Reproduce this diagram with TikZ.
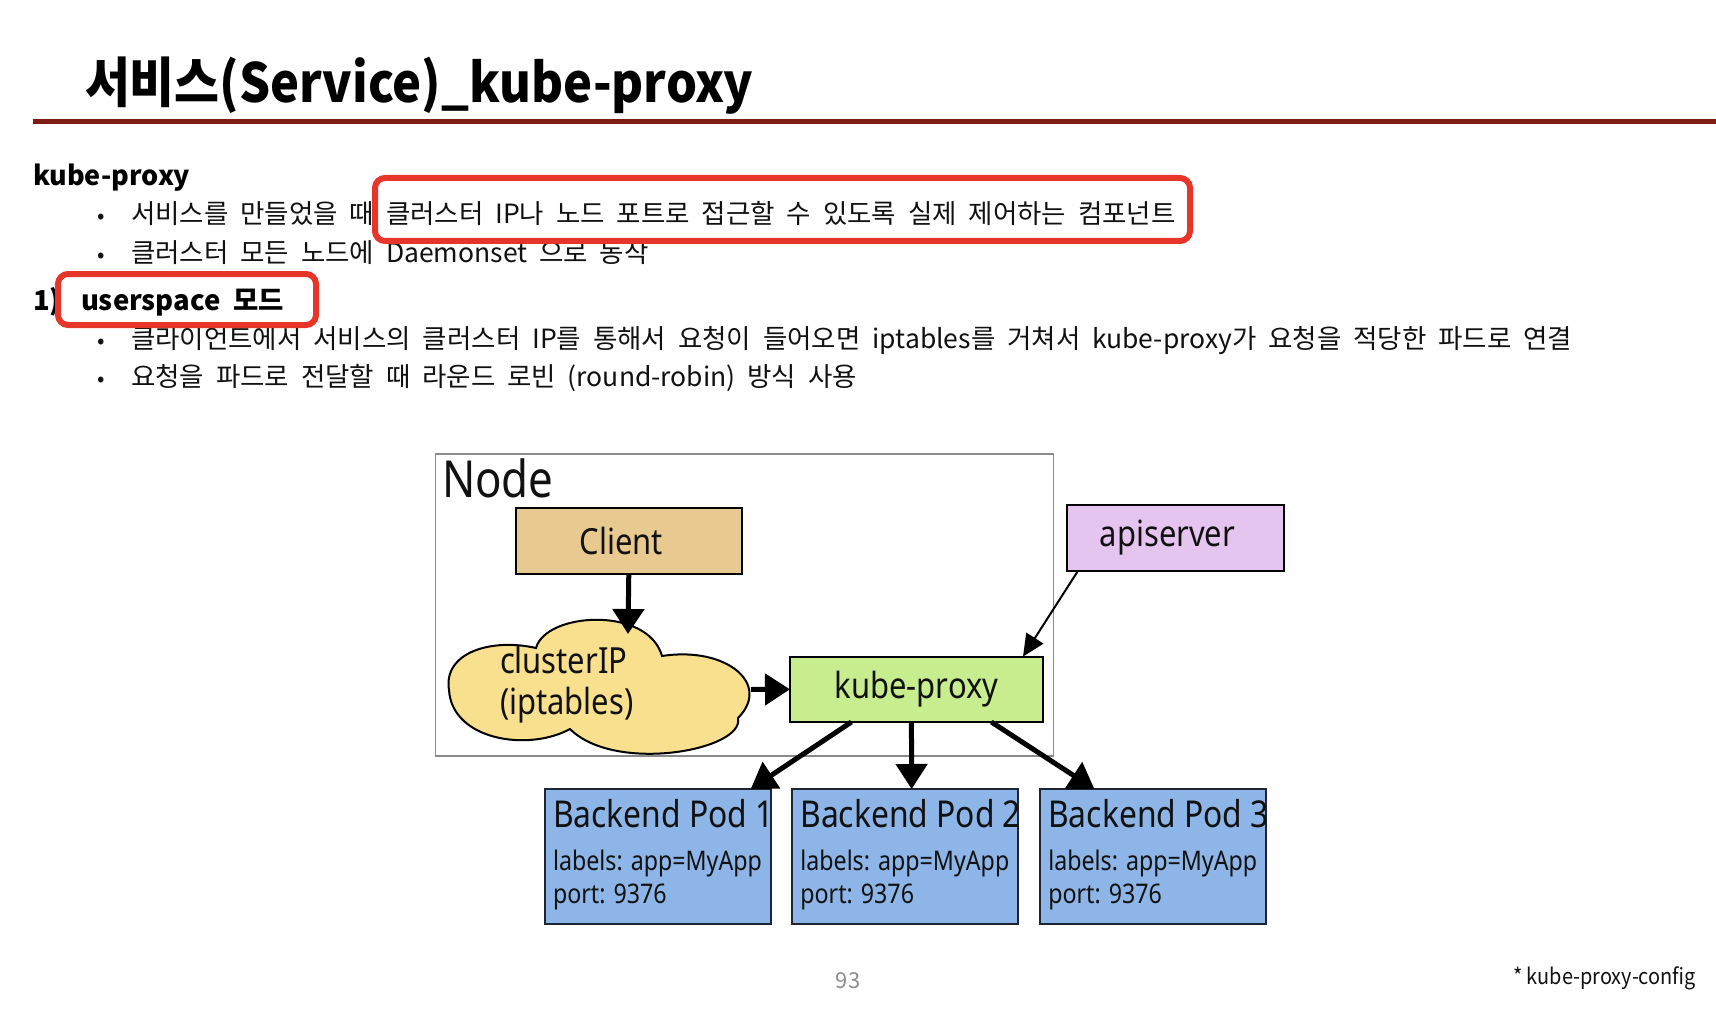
\documentclass[tikz,border=0pt]{standalone}
\usepackage{fontspec}
\setmainfont{Noto Sans CJK KR}
\newfontfamily\krt{Noto Sans CJK KR}[FakeStretch=0.905]
\newfontfamily\kr{Noto Sans CJK KR}[WordSpace=2]
\newfontfamily\dfont{Noto Sans}[FakeStretch=0.86]
\usetikzlibrary{arrows.meta,calc}
\definecolor{rulered}{HTML}{7F1D14}
\definecolor{hired}{HTML}{E8352A}
\definecolor{clientc}{HTML}{E8C98F}
\definecolor{apic}{HTML}{E6C4F0}
\definecolor{kpc}{HTML}{C7ED8F}
\definecolor{cloudc}{HTML}{F8E08E}
\definecolor{podc}{HTML}{8DB5E7}
\definecolor{podborder}{HTML}{1E2633}
\definecolor{nodegray}{HTML}{8A8A8A}
\definecolor{txt}{HTML}{111111}
\definecolor{pagegray}{HTML}{8C8C8C}
\begin{document}
\begin{tikzpicture}[x=1pt,y=-1pt,
  every node/.style={inner sep=0pt, outer sep=0pt, text=txt},
  titletext/.style={anchor=base west, font=\krt\bfseries\fontsize{54}{60}\selectfont, text=black},
  headtext/.style={anchor=base west, font=\kr\bfseries\fontsize{27.5}{32}\selectfont, text=black},
  bodytext/.style={anchor=base west, font=\kr\fontsize{26.5}{30}\selectfont},
  bul/.style={anchor=base, font=\kr\fontsize{22}{30}\selectfont},
  hibox/.style={draw=hired, line width=6pt, rounded corners=10pt},
  box/.style={draw=black, line width=2pt, font=\dfont\fontsize{36}{40}\selectfont},
  pod/.style={draw=podborder, fill=podc, line width=2pt, minimum width=225.5pt, minimum height=135pt},
  podtitle/.style={anchor=base west, font=\dfont\fontsize{37}{40}\selectfont},
  podsub/.style={anchor=base west, font=\dfont\fontsize{27}{30}\selectfont},
  bigarrow/.style={line width=5pt, -{Triangle[length=25pt, width=31pt]}},
  thinarrow/.style={line width=2pt, -{Triangle[length=22pt, width=20pt]}}
]
\useasboundingbox (0,0) rectangle (1716,1019);
\fill[white] (0,0) rectangle (1716,1019);

% title
\node[titletext] (title) at (85,103) {서비스(Service)\_kube-proxy};
\draw[rulered, line width=5pt] (33,121.5) -- (1716,121.5);

% text
\node[headtext, font=\kr\bfseries\fontsize{27}{32}\selectfont] (h1) at (33,186) {kube-proxy};
\node[bul] (d1) at (101,224) {•};
\node[bodytext] (b1) at (131,224) {서비스를 만들었을 때 클러스터 IP나 노드 포트로 접근할 수 있도록 실제 제어하는 컴포넌트};
\node[bul] (d2) at (101,262) {•};
\node[bodytext] (b2) at (131,262) {클러스터 모든 노드에 Daemonset 으로 동작};
\node[headtext] (h2n) at (33,310) {1)};
\node[headtext] (h2) at (81,310) {userspace 모드};
\node[bul] (d3) at (101,348) {•};
\node[bodytext] (b3) at (131,348) {클라이언트에서 서비스의 클러스터 IP를 통해서 요청이 들어오면 iptables를 거쳐서 kube-proxy가 요청을 적당한 파드로 연결};
\node[bul] (d4) at (101,386) {•};
\node[bodytext] (b4) at (131,386) {요청을 파드로 전달할 때 라운드 로빈 (round-robin) 방식 사용};

\draw[hibox] (375,178) rectangle (1190,241);
\draw[hibox] (58,274) rectangle (316,325);

% diagram
\node[draw=nodegray, line width=1.5pt, minimum width=618pt, minimum height=302pt, anchor=north west] (nodebox) at (435.6,454) {};
\node[anchor=base west, font=\dfont\fontsize{51}{54}\selectfont] (nodelabel) at (442,497) {Node};

\node[box, fill=clientc, minimum width=226.5pt, minimum height=65.5pt] (client) at (628.8,540.8) {\hspace{-15pt}Client};
\node[box, fill=apic, minimum width=217pt, minimum height=66.5pt] (api) at (1175.5,537.8) {\hspace{-16pt}apiserver};
\node[box, fill=kpc, minimum width=253pt, minimum height=65.4pt] (kp) at (916.5,689.3) {kube-proxy};

% cloud
\filldraw[fill=cloudc, draw=black, line width=2pt]
  (449,690) .. controls (443,652) and (492,638) .. (536,648)
  .. controls (546,612) and (648,606) .. (662,656)
  .. controls (726,646) and (772,684) .. (738,718)
  .. controls (745,750) and (615,774) .. (570,729)
  .. controls (528,752) and (452,740) .. (449,690) -- cycle;
\node[anchor=base west, font=\dfont\fontsize{36}{40}\selectfont] (cl1) at (500,673) {clusterIP};
\node[anchor=base west, font=\dfont\fontsize{36}{40}\selectfont] (cl2) at (500,714) {(iptables)};
\coordinate (cloudtop) at (628,634);
\coordinate (cloudright) at (751,689.5);

% pods
\node[pod] (p1) at (657.8,856.5) {};
\node[pod] (p2) at (905.1,856.5) {};
\node[pod] (p3) at (1153,856.5) {};
\foreach \p/\n in {p1/1,p2/2,p3/3}{
  \node[podtitle] (\p t) at ($(\p.north west)+(8,38)$) {Backend Pod \n};
  \node[podsub] (\p l) at ($(\p.north west)+(8,81)$) {labels: app=MyApp};
  \node[podsub] (\p r) at ($(\p.north west)+(8,114)$) {port: 9376};
}

% arrows
\draw[bigarrow] (client.south) -- (cloudtop);
\draw[bigarrow] (cloudright) -- (kp.west);
\draw[bigarrow] ($(kp.south west)!0.243!(kp.south east)$) -- ($(p1.north west)!0.912!(p1.north east)$);
\draw[bigarrow] ($(kp.south west)!0.48!(kp.south east)$) -- ($(p2.north west)!0.529!(p2.north east)$);
\draw[bigarrow] ($(kp.south west)!0.796!(kp.south east)$) -- ($(p3.north west)!0.24!(p3.north east)$);
\draw[thinarrow] ($(api.south west)!0.05!(api.south east)$) -- ($(kp.north west)!0.921!(kp.north east)$);

% footer
\node[anchor=base, font=\kr\fontsize{22}{26}\selectfont, text=pagegray] (page) at (848,988) {93};
\node[anchor=base east, font=\krt\fontsize{22}{26}\selectfont] (foot) at (1696,984) {* kube-proxy-config};
\end{tikzpicture}
\end{document}
